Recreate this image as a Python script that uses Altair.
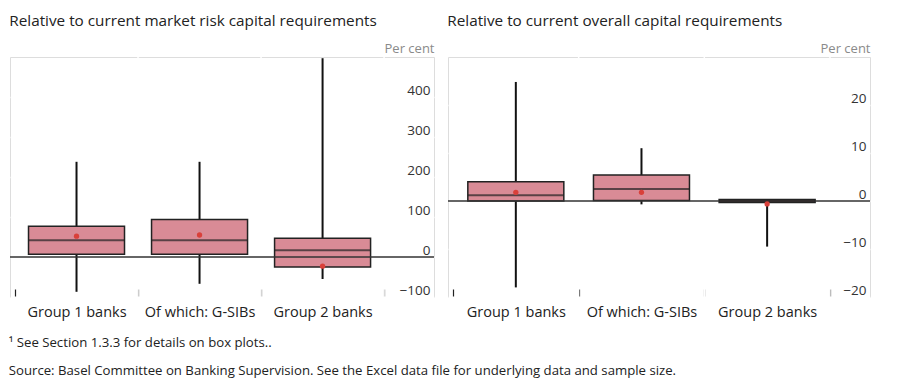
import altair as alt
import pandas as pd

categories = ["Group 1 banks", "Of which: G-SIBs", "Group 2 banks"]
positions = [0.5, 1.5, 2.5]

# Left panel: relative to current market risk capital requirements (per cent)
mr_low = [-87, -67, -55]
mr_q1 = [7, 7, -25]
mr_median = [42, 42, 17]
mr_q3 = [77, 94, 47]
mr_high = [238, 238, 497]
mr_mean = [52, 55, -23]

# Right panel: relative to current overall capital requirements (per cent)
oc_low = [-18, -0.7, -9.5]
oc_q1 = [0, 0.1, -0.3]
oc_median = [1.2, 2.5, 0]
oc_q3 = [4.0, 5.4, 0.3]
oc_high = [24.8, 11, 0.4]
oc_mean = [1.8, 1.8, -0.6]

left_ticks = [-100, 0, 100, 200, 300, 400]
right_ticks = [-20, -10, 0, 10, 20]

FONT = "Open Sans"
BOX_FILL = "#d98b96"
MEAN_COLOR = "#d9403a"


def panel(title, low, q1, med, q3, high, mean, ydomain, yticks, width, xmax):
    df = pd.DataFrame({
        "pos": positions, "cat": categories, "low": low, "q1": q1,
        "median": med, "q3": q3, "high": high, "mean": mean,
    })
    label_expr = " : ".join(
        f"datum.value == {p} ? '{c}'" for p, c in zip(positions, categories)
    ) + " : ''"
    xscale = alt.Scale(domain=[0, xmax], nice=False, zero=False)
    yscale = alt.Scale(domain=ydomain, nice=False, zero=False)
    x = alt.X("pos:Q", scale=xscale, axis=alt.Axis(
        values=[0, 0.5, 1, 1.5, 2, 2.5, 3], labelExpr=label_expr, grid=False,
        domain=False, offset=-8, tickSize=7, tickWidth=1.2,
        tickColor=alt.expr("datum.value % 1 == 0 ? '#222' : 'transparent'"),
        labelPadding=9, labelFontSize=14.5, labelColor="#222", labelFont=FONT,
        labelOverlap=False, title=None))
    y_axis = alt.Axis(
        orient="right", values=yticks, grid=True, gridColor="white",
        gridWidth=1.5, domain=False, ticks=False, labelAlign="right",
        labelBaseline="bottom", labelPadding=-4, labelFontSize=13.5,
        labelColor="#333", labelFont=FONT, title="Per cent", titleAngle=0,
        titleAlign="right", titleBaseline="bottom", titleX=0, titleY=-2,
        titleFontWeight="normal", titleFontSize=13, titleColor="#8a8a8a",
        titleFont=FONT)
    base = alt.Chart(df)
    vgrid = alt.Chart(pd.DataFrame({"v": [1, 2, 3]})).mark_rule(
        color="white", strokeWidth=1.5).encode(x=alt.X("v:Q", scale=xscale))
    whisk = base.mark_rule(color="#111", strokeWidth=2).encode(
        x=x, y=alt.Y("low:Q", scale=yscale, axis=y_axis), y2="high:Q")
    box = base.mark_bar(size=96, fill=BOX_FILL, stroke="#222",
                        strokeWidth=1.5).encode(
        x=alt.X("pos:Q", scale=xscale), y=alt.Y("q1:Q", scale=yscale), y2="q3:Q")
    zero = alt.Chart(pd.DataFrame({"z": [0]})).mark_rule(
        color="#333", strokeWidth=1.5).encode(y=alt.Y("z:Q", scale=yscale))
    median = base.mark_tick(orient="horizontal", size=96, thickness=2,
                            color="#222").encode(
        x=alt.X("pos:Q", scale=xscale), y=alt.Y("median:Q", scale=yscale))
    meanpt = base.mark_circle(size=28, color=MEAN_COLOR, opacity=1).encode(
        x=alt.X("pos:Q", scale=xscale), y=alt.Y("mean:Q", scale=yscale))
    return alt.layer(vgrid, whisk, box, zero, median, meanpt).properties(
        width=width, height=240,
        title=alt.TitleParams(title, anchor="start", fontSize=15.3,
                              fontWeight="normal", font=FONT, color="#222",
                              offset=13))


left = panel("Relative to current market risk capital requirements",
             mr_low, mr_q1, mr_median, mr_q3, mr_high, mr_mean,
             [-100, 500], left_ticks, 424, 424 / 126)
right = panel("Relative to current overall capital requirements",
              oc_low, oc_q1, oc_median, oc_q3, oc_high, oc_mean,
              [-20, 30], right_ticks, 422, 422 / 128.7)

chart = alt.hconcat(left, right, spacing=10).properties(
    title=alt.TitleParams(
        ["¹  See Section 1.3.3 for details on box plots..",
         "Source: Basel Committee on Banking Supervision. See the Excel data file for underlying data and sample size."],
        orient="bottom", anchor="start", fontSize=13.2, fontWeight="normal",
        font=FONT, color="#222", lineHeight=28, offset=18)
).configure_view(fill="#dcdcdc", stroke=None).configure(
    padding={"top": 5, "left": 0, "right": 0, "bottom": 0})

chart.save("out.html", embed_options={"renderer": "svg", "actions": False})
